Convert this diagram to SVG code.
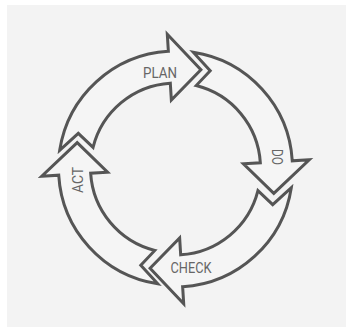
<svg xmlns="http://www.w3.org/2000/svg" width="346" height="327" viewBox="0 0 346 327">
<style>
.arrow{fill:#f5f5f5;stroke:#555;stroke-width:3;stroke-linejoin:miter}
.lbl{font-family:Roboto,"Liberation Sans",sans-serif;font-size:14px;fill:#666;text-anchor:middle}
</style>
<defs>
<path id="arr" d="M59.7,150.3 A117,117 0 0 1 168.36,51.22 L167.3,34.25 L200.9,69.7 L171.35,100.1 L170.31,83.16 A85,85 0 0 0 93.05,147.3 L78.3,133.3 Z"/>
</defs>
<rect x="0" y="0" width="346" height="327" fill="#ffffff"/>
<rect x="7" y="5" width="339" height="322" fill="#f3f3f3"/>
<g id="connectors"></g>
<g id="plan">
<use href="#arr" class="arrow"/>
<text class="lbl" x="160" y="78" textLength="34" lengthAdjust="spacingAndGlyphs">PLAN</text>
</g>
<g id="do">
<use href="#arr" class="arrow" transform="rotate(90 175.5 168)"/>
<text class="lbl" transform="translate(277 157) rotate(90)" x="0" y="5" textLength="16" lengthAdjust="spacingAndGlyphs">DO</text>
</g>
<g id="check">
<use href="#arr" class="arrow" transform="translate(0 2) rotate(180 175.5 168)"/>
<text class="lbl" x="191" y="273" textLength="41" lengthAdjust="spacingAndGlyphs">CHECK</text>
</g>
<g id="act">
<use href="#arr" class="arrow" transform="rotate(270 175.5 168)"/>
<text class="lbl" transform="translate(78 180) rotate(-90)" x="0" y="5" textLength="26" lengthAdjust="spacingAndGlyphs">ACT</text>
</g>
</svg>
